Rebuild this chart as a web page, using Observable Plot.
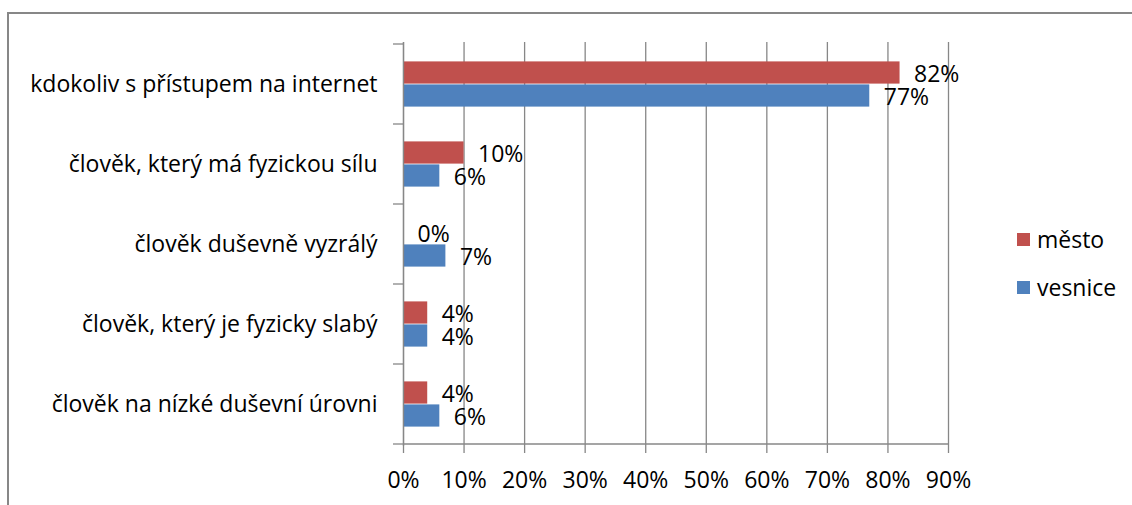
<!DOCTYPE html>
<html>
<head>
<meta charset="utf-8">
<script src="https://cdn.jsdelivr.net/npm/d3@7"></script>
<script src="https://cdn.jsdelivr.net/npm/@observablehq/plot@0.6"></script>
<style>
  body { margin: 0; background: #fff; }
  #wrap { position: relative; width: 1132px; height: 505px; overflow: hidden; font-family: "Open Sans", sans-serif; }
  #frame { position: absolute; left: 7px; top: 12px; width: 1300px; height: 700px; border: 2px solid #878787; box-sizing: border-box; }
  #chart { position: absolute; left: 0; top: 0; }
  .lg { position: absolute; left: 1017px; height: 30px; display: flex; align-items: center; font-size: 23px; color: #000; }
  .lg .sw { width: 13px; height: 13px; margin-right: 7px; }
</style>
</head>
<body>
<div id="wrap">
  <div id="frame"></div>
  <div id="chart"></div>
  <div id="legend"></div>
</div>
<script>
// ---- data ----
const categories = [
  "kdokoliv s přístupem na internet",
  "člověk, který má fyzickou sílu",
  "člověk duševně vyzrálý",
  "člověk, který je fyzicky slabý",
  "člověk na nízké duševní úrovni"
];
const seriesNames = ["město", "vesnice"];
const mestoValues   = [0.82, 0.10, 0.00, 0.04, 0.04];
const vesniceValues = [0.77, 0.06, 0.07, 0.04, 0.06];
const xTicks = [0, 0.1, 0.2, 0.3, 0.4, 0.5, 0.6, 0.7, 0.8, 0.9];
const seriesColors = ["#C0504D", "#4F81BD"];

// ---- layout ----
const W = 1132, H = 505, mT = 42, mB = 59, mL = 403, mR = 184;
const band = (H - mT - mB) / categories.length;
const barH = 23;
const gap = (band - 2 * barH) / 2;
const gridColor = "#878787";
const pct = d3.format(".0%");

const rows = [];
categories.forEach((c, i) => {
  rows.push({category: c, series: seriesNames[0], value: mestoValues[i]});
  rows.push({category: c, series: seriesNames[1], value: vesniceValues[i]});
});
const mesto = rows.filter(d => d.series === seriesNames[0]);
const vesnice = rows.filter(d => d.series === seriesNames[1]);

// category boundary ticks + x axis baseline, drawn from the scales
function boundaryTicks(index, scales, values, dims) {
  const y = scales.y, x = scales.x;
  const bw = y.bandwidth ? y.bandwidth() : band;
  const edges = categories.map(c => y(c)).concat([y(categories[categories.length - 1]) + bw]);
  const g = d3.create("svg:g").attr("stroke", gridColor).attr("stroke-width", 1.3);
  const x0 = x(0);
  g.selectAll("line.t").data(edges).join("line")
    .attr("x1", x0 - 10).attr("x2", x0).attr("y1", d => d).attr("y2", d => d);
  const yb = edges[edges.length - 1];
  g.append("line").attr("x1", x0).attr("x2", x(xTicks[xTicks.length - 1])).attr("y1", yb).attr("y2", yb);
  return g.node();
}

const chart = Plot.plot({
  width: W, height: H,
  marginTop: mT, marginBottom: mB, marginLeft: mL, marginRight: mR,
  style: {fontFamily: "'Open Sans', sans-serif", fontSize: "23px", color: "#000", background: "transparent"},
  x: {domain: [0, 0.9]},
  y: {domain: categories, paddingInner: 0, paddingOuter: 0},
  marks: [
    Plot.gridX(xTicks, {stroke: gridColor, strokeOpacity: 1, strokeWidth: 1.3}),
    Plot.barX(mesto, {x: "value", y: "category", fill: seriesColors[0], insetTop: gap, insetBottom: gap + barH}),
    Plot.barX(vesnice, {x: "value", y: "category", fill: seriesColors[1], insetTop: gap + barH, insetBottom: gap}),
    Plot.ruleX([0], {stroke: gridColor, strokeWidth: 1.3}),
    Plot.text(mesto, {x: "value", y: "category", text: d => pct(d.value), textAnchor: "start", dx: 14, dy: -barH / 2 + 2, fill: "#000"}),
    Plot.text(vesnice, {x: "value", y: "category", text: d => pct(d.value), textAnchor: "start", dx: 14, dy: barH / 2 + 2, fill: "#000"}),
    Plot.axisX(xTicks, {tickSize: 7, tickPadding: 18, tickFormat: pct, label: null, stroke: gridColor, strokeWidth: 1.3}),
    Plot.axisY({tickSize: 0, tickPadding: 26, label: null}),
    boundaryTicks
  ]
});
document.getElementById("chart").appendChild(chart);

// legend
const legend = document.getElementById("legend");
const legendTops = [224, 272];
seriesNames.forEach((s, i) => {
  const item = document.createElement("div");
  item.className = "lg";
  item.style.top = legendTops[i] + "px";
  const sw = document.createElement("div");
  sw.className = "sw";
  sw.style.background = seriesColors[i];
  const t = document.createElement("span");
  t.textContent = s;
  item.appendChild(sw);
  item.appendChild(t);
  legend.appendChild(item);
});
</script>
</body>
</html>
